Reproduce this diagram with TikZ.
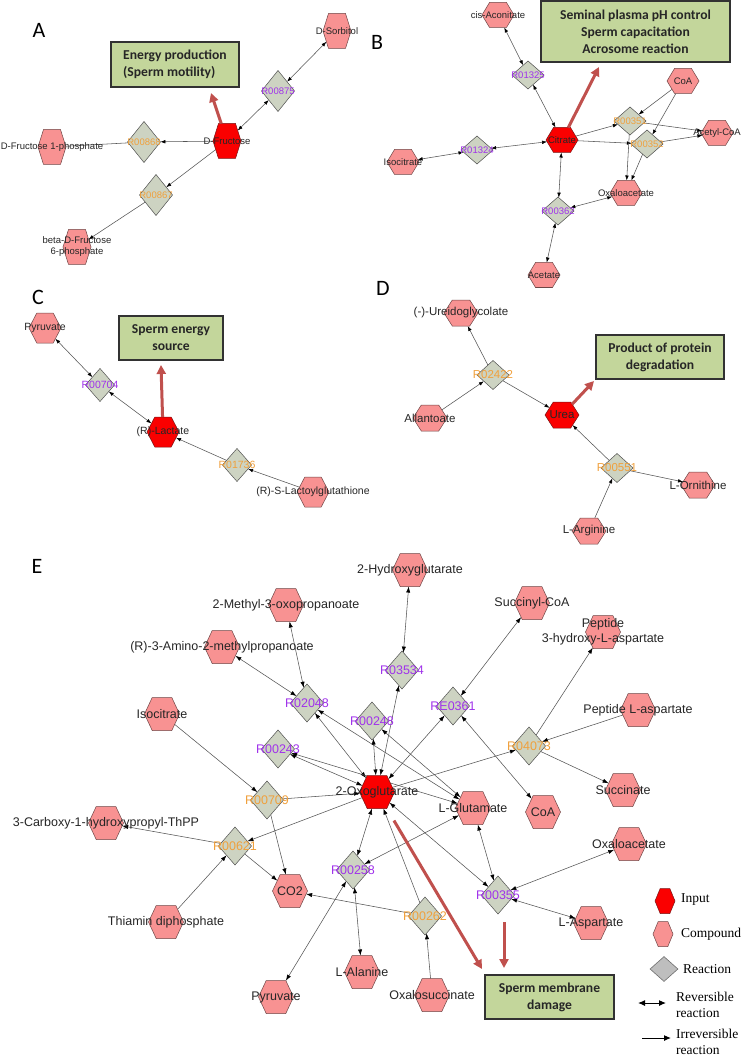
\documentclass[tikz,border=0pt]{standalone}
\usepackage{fontspec}
\setmainfont{Liberation Sans}
\newfontfamily\calfont{Carlito}
\newfontfamily\serfont{Liberation Serif}
\usetikzlibrary{shapes.geometric,shapes.symbols,arrows.meta}
\pgfdeclarelayer{bg}
\pgfsetlayers{bg,main}
\definecolor{cpdfill}{RGB}{248,146,146}
\definecolor{cpdline}{RGB}{110,70,70}
\definecolor{inpfill}{RGB}{250,0,0}
\definecolor{inpline}{RGB}{120,20,20}
\definecolor{rxfill}{RGB}{205,211,194}
\definecolor{rxline}{RGB}{80,80,80}
\definecolor{rvcol}{RGB}{160,50,235}
\definecolor{ircol}{RGB}{240,160,60}
\definecolor{boxfill}{RGB}{195,214,155}
\definecolor{boxline}{RGB}{50,50,50}
\definecolor{redarr}{RGB}{192,80,77}
\definecolor{edgecol}{RGB}{85,85,85}
\definecolor{lgdfill}{RGB}{190,190,190}
\definecolor{lgdline}{RGB}{110,110,110}
\def\pfont{\fontsize{9.5}{11}\selectfont}
\tikzset{
  hexsz/.style={minimum width=30pt, minimum height=26pt, signal pointer angle=120},
  dmsz/.style={minimum width=32pt, minimum height=30pt},
  hexbase/.style={signal, signal to=east and west, inner sep=0pt, outer sep=0pt, line width=0.5pt, hexsz},
  cpd/.style={hexbase, fill=cpdfill, draw=cpdline},
  inp/.style={hexbase, fill=inpfill, draw=inpline},
  rx/.style={diamond, inner sep=0pt, outer sep=0pt, fill=rxfill, draw=rxline, line width=0.5pt, dmsz},
  lab/.style={font=\pfont, inner sep=0pt, text=black!85},
  cl/.style={label={[lab, align=center]center:#1}},
  rl/.style={label={[lab, text=rvcol]center:#1}},
  il/.style={label={[lab, text=ircol]center:#1}},
  e/.style={draw=edgecol, line width=0.55pt},
  bi/.style={e, <->},
  ir/.style={e, ->},
  >={Latex[length=5pt,width=3.6pt,color=black]},
  box/.style={draw=boxline, line width=1.2pt, fill=boxfill, inner sep=0pt,
    font={\calfont\bfseries\fontsize{13.6}{17}\selectfont}, text=black!85},
  redar/.style={draw=redarr, line width=3pt, -{Triangle[length=9pt,width=9pt,color=redarr]}},
  plbl/.style={font={\calfont\fontsize{22}{24}\selectfont}, inner sep=0pt},
  lgtext/.style={font={\serfont\fontsize{13.5}{16}\selectfont}, inner sep=0pt, anchor=west, align=left},
}
\begin{document}
\begin{tikzpicture}[x=1pt,y=-1pt]
\begin{pgfonlayer}{bg}
\fill[white] (0,0) rectangle (743,1056);
\end{pgfonlayer}
\path[use as bounding box] (0,0) rectangle (743,1056);

% ---------------- Panel A ----------------
\begin{scope}[hexsz/.style={minimum width=28pt, minimum height=35pt, signal pointer angle=145},
              dmsz/.style={minimum width=33pt, minimum height=41pt}]
\def\pfont{\fontsize{9.5}{11}\selectfont}
\node[plbl] (labA) at (39,30) {A};
\node[box, minimum width=128pt, minimum height=45pt, align=left] (boxA) at (175,64.5) {Energy production\\(Sperm motility)};
\node[inp, cl={D-Fructose}] (fru) at (227,141) {};
\node[cpd, cl={D-Sorbitol}] (sorb) at (337,31) {};
\node[rx, rl={R00875}] (r875) at (278,91) {};
\node[rx, il={R00868}] (r868) at (144,142) {};
\node[cpd, cl={D-Fructose 1-phosphate}] (f1p) at (52,147) {};
\node[rx, il={R00867}] (r867) at (156,195) {};
\node[cpd, cl={beta-D-Fructose\\6-phosphate}] (bf6p) at (77,247) {};
\begin{pgfonlayer}{bg}
\draw[bi] (sorb) -- (r875);
\draw[bi] (r875) -- (fru);
\draw[ir] (fru) -- (r868);
\draw[e] (r868) -- (f1p);
\draw[ir] (fru) -- (r867);
\draw[ir] (r867) -- (bf6p);
\end{pgfonlayer}
\coordinate (aA) at (211,93);
\draw[redar] (fru) -- (aA);
\end{scope}

% ---------------- Panel B ----------------
\begin{scope}[hexsz/.style={minimum width=32pt, minimum height=25pt, signal pointer angle=118},
              dmsz/.style={minimum width=32pt, minimum height=28pt}]
\def\pfont{\fontsize{9.5}{11}\selectfont}
\node[plbl] (labB) at (377,42) {B};
\node[box, minimum width=189pt, minimum height=61pt, align=center] (boxB) at (635.5,31.5) {Seminal plasma pH control\\Sperm capacitation\\Acrosome reaction};
\node[inp, cl={Citrate}] (cit) at (562,140) {};
\node[cpd, cl={cis-Aconitate}] (cisa) at (498,15) {};
\node[rx, rl={R01325}] (r1325) at (528,75) {};
\node[cpd, cl={CoA}] (coa) at (683,81) {};
\node[rx, il={R00351}] (r351) at (630,121) {};
\node[rx, il={R00352}] (r352) at (647,144) {};
\node[cpd, cl={Acetyl-CoA}] (accoa) at (717,133) {};
\node[rx, rl={R01324}] (r1324) at (477,150) {};
\node[cpd, cl={Isocitrate}] (isoc) at (403,162) {};
\node[cpd, cl={Oxaloacetate}] (oaa) at (626,193) {};
\node[rx, rl={R00362}] (r362) at (558,211) {};
\node[cpd, cl={Acetate}] (acet) at (544,275) {};
\begin{pgfonlayer}{bg}
\draw[bi] (cisa) -- (r1325);
\draw[bi] (r1325) -- (cit);
\draw[bi] (cit) -- (r1324);
\draw[bi] (r1324) -- (isoc);
\draw[bi] (cit) -- (r362);
\draw[bi] (r362) -- (oaa);
\draw[bi] (r362) -- (acet);
\draw[ir] (cit) -- (r351);
\draw[ir] (cit) -- (r352);
\draw[ir] (coa) -- (r351);
\draw[ir] (coa) -- (r352);
\draw[ir] (r351) -- (accoa);
\draw[ir] (r352) -- (accoa);
\draw[ir] (r351) -- (oaa);
\draw[ir] (r352) -- (oaa);
\end{pgfonlayer}
\coordinate (aB) at (599,67);
\draw[redar] (cit) -- (aB);
\end{scope}

% ---------------- Panel C ----------------
\begin{scope}[hexsz/.style={minimum width=32pt, minimum height=30pt, signal pointer angle=125},
              dmsz/.style={minimum width=29pt, minimum height=33pt}]
\def\pfont{\fontsize{10.5}{12}\selectfont}
\node[plbl] (labC) at (38,297) {C};
\node[box, minimum width=104pt, minimum height=44pt, align=center] (boxC) at (171,338) {Sperm energy\\source};
\node[inp, cl={(R)-Lactate}] (lac) at (163,432) {};
\node[cpd, cl={Pyruvate}] (pyr) at (45,328) {};
\node[rx, rl={R00704}] (r704) at (100,385) {};
\node[rx, il={R01736}] (r1736) at (237,465) {};
\node[cpd, cl={(R)-S-Lactoylglutathione}] (lgsh) at (313,492) {};
\begin{pgfonlayer}{bg}
\draw[bi] (pyr) -- (r704);
\draw[bi] (r704) -- (lac);
\draw[ir] (r1736) -- (lac);
\draw[ir] (lgsh) -- (r1736);
\end{pgfonlayer}
\coordinate (aC) at (161,365);
\draw[redar] (lac) -- (aC);
\end{scope}

% ---------------- Panel D ----------------
\begin{scope}[hexsz/.style={minimum width=34pt, minimum height=26pt, signal pointer angle=115},
              dmsz/.style={minimum width=32pt, minimum height=29pt}]
\def\pfont{\fontsize{11.5}{13}\selectfont}
\node[plbl] (labD) at (383,288) {D};
\node[box, minimum width=128pt, minimum height=44pt, align=center] (boxD) at (660,357) {Product of protein\\degradation};
\node[inp, cl={Urea}] (urea) at (562,415) {};
\node[cpd, cl={(-)-Ureidoglycolate}] (ureid) at (461,313) {};
\node[rx, il={R02422}] (r2422) at (493,375) {};
\node[cpd, cl={Allantoate}] (allan) at (430,418) {};
\node[rx, il={R00551}] (r551) at (617,468) {};
\node[cpd, cl={L-Ornithine}] (orn) at (698,485) {};
\node[cpd, cl={L-Arginine}] (arg) at (589,531) {};
\begin{pgfonlayer}{bg}
\draw[ir] (r2422) -- (ureid);
\draw[ir] (allan) -- (r2422);
\draw[ir] (r2422) -- (urea);
\draw[ir] (r551) -- (urea);
\draw[ir] (r551) -- (orn);
\draw[ir] (arg) -- (r551);
\end{pgfonlayer}
\coordinate (aD) at (594,381);
\draw[redar] (urea) -- (aD);
\end{scope}

% ---------------- Panel E ----------------
\begin{scope}[hexsz/.style={minimum width=35pt, minimum height=33pt, signal pointer angle=130},
              dmsz/.style={minimum width=33pt, minimum height=38pt},
              >={Latex[length=6pt,width=4.2pt,color=black]}]
\def\pfont{\fontsize{12.5}{15}\selectfont}
\node[plbl] (labE) at (37,566) {E};
\node[box, minimum width=129pt, minimum height=44pt, align=center] (boxE) at (549.5,997) {Sperm membrane\\damage};
\node[inp, cl={2-Oxoglutarate}] (oxo) at (377,792) {};
\node[cpd, cl={2-Hydroxyglutarate}] (hg) at (410,570) {};
\node[cpd, cl={2-Methyl-3-oxopropanoate}] (mop) at (286,605) {};
\node[cpd, cl={(R)-3-Amino-2-methylpropanoate}] (amp) at (222,647) {};
\node[cpd, cl={Succinyl-CoA}] (succoa) at (532,603) {};
\node[cpd, cl={Peptide\\3-hydroxy-L-aspartate}] (pep3) at (603,632) {};
\node[rx, rl={R03534}] (r3534) at (402,670) {};
\node[rx, rl={R02048}] (r2048) at (307,703) {};
\node[rx, rl={R00248}] (r248) at (372,721) {};
\node[rx, rl={RE0361}] (re361) at (453,706) {};
\node[cpd, cl={Peptide L-aspartate}] (pepl) at (638,710) {};
\node[cpd, cl={Isocitrate}] (isoE) at (162,714) {};
\node[rx, rl={R00243}] (r243) at (278,749) {};
\node[rx, il={R04073}] (r4073) at (529,746) {};
\node[cpd, cl={Succinate}] (succ) at (623,790) {};
\node[rx, il={R00709}] (r709) at (267,800) {};
\node[cpd, cl={L-Glutamate}] (glu) at (473,808) {};
\node[cpd, cl={CoA}] (coaE) at (543,812) {};
\node[cpd, cl={3-Carboxy-1-hydroxypropyl-ThPP}] (carb) at (106,823) {};
\node[rx, il={R00621}] (r621) at (235,846) {};
\node[cpd, cl={Oxaloacetate}] (oaaE) at (629,844) {};
\node[cpd, cl={CO2}] (co2) at (290,891) {};
\node[rx, rl={R00258}] (r258) at (353,870) {};
\node[rx, rl={R00355}] (r355) at (498,895) {};
\node[rx, il={R00262}] (r262) at (425,916) {};
\node[cpd, cl={Thiamin diphosphate}] (thia) at (166,922) {};
\node[cpd, cl={L-Aspartate}] (asp) at (591,923) {};
\node[cpd, cl={L-Alanine}] (ala) at (362,972) {};
\node[cpd, cl={Pyruvate}] (pyrE) at (276,997) {};
\node[cpd, cl={Oxalosuccinate}] (oxs) at (432,995) {};
\begin{pgfonlayer}{bg}
\draw[bi] (mop) -- (r2048);
\draw[bi] (amp) -- (r2048);
\draw[bi] (r2048) -- (oxo);
\draw[bi] (r2048) -- (glu);
\draw[bi] (hg) -- (r3534);
\draw[bi] (r3534) -- (oxo);
\draw[bi] (r248) -- (oxo);
\draw[bi] (r248) -- (glu);
\draw[bi] (r243) -- (oxo);
\draw[bi] (r243) -- (glu);
\draw[bi] (succoa) -- (re361);
\draw[bi] (re361) -- (oxo);
\draw[bi] (re361) -- (coaE);
\draw[ir] (oxo) -- (r4073);
\draw[ir] (pepl) -- (r4073);
\draw[ir] (r4073) -- (pep3);
\draw[ir] (r4073) -- (succ);
\draw[ir] (isoE) -- (r709);
\draw[ir] (r709) -- (oxo);
\draw[ir] (r709) -- (co2);
\draw[ir] (oxo) -- (r621);
\draw[ir] (thia) -- (r621);
\draw[ir] (r621) -- (carb);
\draw[ir] (r621) -- (co2);
\draw[bi] (oxo) -- (r258);
\draw[bi] (glu) -- (r258);
\draw[bi] (r258) -- (pyrE);
\draw[bi] (r258) -- (ala);
\draw[bi] (oxo) -- (r355);
\draw[bi] (glu) -- (r355);
\draw[bi] (oaaE) -- (r355);
\draw[bi] (asp) -- (r355);
\draw[ir] (oxs) -- (r262);
\draw[ir] (r262) -- (co2);
\draw[ir] (r262) -- (oxo);
\end{pgfonlayer}
\coordinate (aE1) at (482,969);
\draw[redar, shorten <=14pt] (oxo) -- (aE1);
\coordinate (aE2s) at (504,922);
\coordinate (aE2e) at (504,968);
\draw[redar] (aE2s) -- (aE2e);
\end{scope}

% ---------------- Legend ----------------
\begin{scope}[hexsz/.style={minimum width=20pt, minimum height=25pt, signal pointer angle=135}]
\node[inp] (lgi) at (665,901) {};
\node[lgtext] (lgit) at (681,900) {Input};
\node[cpd] (lgc) at (663,934) {};
\node[lgtext] (lgct) at (681,934) {Compound};
\node[diamond, inner sep=0pt, fill=lgdfill, draw=lgdline, line width=0.6pt, minimum width=28pt, minimum height=25pt] (lgr) at (664,969) {};
\node[lgtext] (lgrt) at (683,969) {Reaction};
\coordinate (lrv1) at (638,1003);
\coordinate (lrv2) at (666,1003);
\draw[line width=1pt, {Latex[length=7pt,width=6pt]}-{Latex[length=7pt,width=6pt]}] (lrv1) -- (lrv2);
\node[lgtext] (lrvt) at (676,1005) {Reversible\\reaction};
\coordinate (lir1) at (642,1038);
\coordinate (lir2) at (671,1038);
\draw[line width=1pt, -{Latex[length=7pt,width=6pt]}] (lir1) -- (lir2);
\node[lgtext] (lirt) at (676,1042) {Irreversible\\reaction};
\end{scope}
\end{tikzpicture}
\end{document}
